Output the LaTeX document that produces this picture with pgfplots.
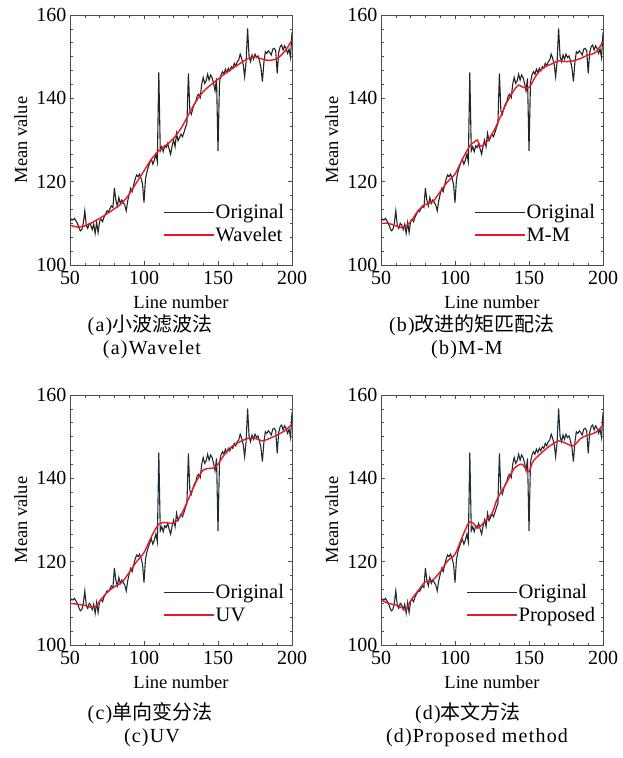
\documentclass[border=0pt]{standalone}
\usepackage{pgfplots}
\pgfplotsset{compat=1.18}
\usepackage{pgfplotstable}
\usepackage{fontspec}
\setmainfont{Liberation Serif}
\newfontfamily\cjk{Noto Sans CJK SC}
\newfontfamily\capfont[LetterSpace=6]{Liberation Serif}
\definecolor{origA}{RGB}{35,35,35}
\definecolor{origC}{RGB}{28,45,55}
\definecolor{smred}{RGB}{232,25,35}

\pgfplotstableread{
x y
50 110.5
51 111
52 110.8
53 111.2
54 110.6
55 110
56 109
57 108.2
58 108.5
59 110
60 113
61 109.5
62 108.8
63 110
64 109.6
65 108.5
66 109.8
67 107.6
68 110.2
69 107.8
70 110.5
71 111
72 110.4
73 111.5
74 112.2
75 113
76 112.8
77 113.5
78 114.2
79 113.8
80 118.5
81 115.5
82 114.2
83 116.2
84 114.8
85 115.6
86 115
87 114.4
88 113
89 115.4
90 117
91 118.4
92 117.6
93 119.2
94 120.6
95 121.6
96 121.2
97 121.8
98 120.8
99 119.4
100 115
101 120.6
102 122.4
103 123.6
104 124.6
105 125.4
106 124.2
107 125.2
108 126.6
109 124.8
110 146.2
111 127.4
112 128.4
113 127.2
114 128.6
115 128.2
116 129.2
117 127.8
118 126.6
119 128.6
120 130
121 128.4
122 131.6
123 129.8
124 130.6
125 131.4
126 130.8
127 131.8
128 133
129 134
130 146
131 137
132 136.2
133 137.6
134 138.6
135 139.2
136 140.6
137 141
138 140.2
139 143.4
140 145
141 143.6
142 144.2
143 145.8
144 144.4
145 145.6
146 145
147 143.6
148 141.8
149 144.8
150 127.4
151 143.8
152 145.6
153 146.4
154 145.8
155 147
156 146.2
157 147.2
158 146.6
159 147.6
160 147.2
161 148.4
162 147.8
163 148.8
164 149.2
165 150.6
166 149.6
167 148.2
168 145.2
169 148.8
170 156.8
171 150
172 148.8
173 150.4
174 149.4
175 150.6
176 149.8
177 150.2
178 149
179 147.4
180 144
181 148.6
182 151.2
183 150.8
184 151.4
185 151
186 150.4
187 151.8
188 152
189 151.4
190 146
191 151
192 152.4
193 152.8
194 151.6
195 152.6
196 152
197 150.8
198 151.8
199 149.8
200 155.8
}\origdata

\pgfplotstableread{
x y
50 109.6
55 109.1
60 109.4
65 110.2
70 111.2
75 112.3
80 113.5
85 114.8
90 117
95 119.8
100 122.6
105 125.4
110 127.4
115 128.8
120 130.4
125 132.8
130 136
135 139.2
140 141.6
145 143.2
150 144.6
155 146
160 147.2
165 148.4
170 149.5
175 150
180 149.4
185 149.1
190 149.6
195 151.2
200 154
}\wavedata

\pgfplotstableread{
x y
50 110
55 110
60 109.4
65 109
70 110.4
75 113
80 114.5
85 115.2
90 117.6
95 120
100 121.8
105 125.4
110 128.6
113 129.5
115 130
117 128.6
120 129
125 131.4
130 135
135 139
140 142
143 143.2
145 142.8
150 142.6
155 145.6
160 147.4
165 148.2
170 149
175 148.8
180 149
185 149.6
190 150.4
195 151
200 153.6
}\mmdata

\pgfplotstableread{
x y
50 110
55 109.8
60 109.5
65 109
68 109.4
70 110.5
75 112.6
80 114
85 115
90 117.4
95 120
100 122.2
105 126
110 129
115 129.4
120 129.2
125 131.2
130 135
135 139
140 142
145 142.4
148 142.6
150 143.4
155 146
160 147.8
165 148.8
170 149.6
175 149.6
180 149
185 149.6
190 150.4
195 151.4
200 153
}\uvdata

\pgfplotstableread{
x y
50 110.8
55 110
60 109.6
65 108.8
67 108.4
70 110.6
75 113
80 115.2
85 115.6
90 117.6
95 120.2
100 121.8
105 126
108 128.5
110 129.6
113 129
115 128
118 128.8
120 129.6
125 131.6
128 134.6
130 136
135 139
140 142.4
145 143.4
148 142.2
150 141.6
153 144.2
160 146.6
165 148
170 149
175 148.4
180 147.8
185 149.6
190 150.4
195 151
200 152.8
}\propdata

\pgfplotsset{
  panel/.style={
    width=222pt, height=250pt, scale only axis,
    xmin=50, xmax=200, ymin=100, ymax=160,
    xtick={50,100,150,200}, ytick={100,120,140,160},
    minor x tick num=4, minor y tick num=5,
    tick align=inside,
    major tick length=4pt, minor tick length=2.5pt,
    every tick/.style={black!70, line width=0.6pt},
    axis line style={black!70, line width=0.8pt},
    /pgf/number format/assume math mode=true,
    ticklabel style={font=\fontsize{20}{20}\selectfont},
    xticklabel style={yshift=-3pt},
    xlabel={Line number}, ylabel={Mean value},
    label style={font=\fontsize{18.5}{18.5}\selectfont},
    xlabel style={at={(axis description cs:0.5,0)}, anchor=north, yshift=-30pt, inner sep=0pt},
    ylabel style={at={(axis description cs:-0.222,0.5)}, anchor=center, inner sep=0pt},
  },
}
\newcommand{\legline}[2]{\tikz[baseline=-0.32em]\draw[draw=#1, line width=#2] (0pt,0pt) -- (50pt,0pt);}
\newcommand{\legbox}[3]{%
  \node[anchor=south east, inner sep=0pt, font=\fontsize{20.5}{23}\selectfont]
    at (rel axis cs:0.965,0.065) {\renewcommand{\arraystretch}{1}%
    \begin{tabular}{@{}l@{\hspace{1pt}}l@{}}
    \legline{#1}{1.1pt} & Original\\
    \legline{smred}{1.4pt} & #3
    \end{tabular}};}

\begin{document}
\begin{tikzpicture}
\useasboundingbox (0pt,0pt) rectangle (622pt,-758pt);

% (a)
\begin{axis}[panel, at={(70pt,-265pt)}, anchor=south west]
\addplot[draw=origA, line width=1.1pt] table[x=x,y=y] {\origdata};
\addplot[draw=smred, line width=1.4pt, smooth] table[x=x,y=y] {\wavedata};
\legbox{origA}{}{Wavelet}
\end{axis}

% (b)
\begin{axis}[panel, at={(381pt,-265pt)}, anchor=south west]
\addplot[draw=origA, line width=1.1pt] table[x=x,y=y] {\origdata};
\addplot[draw=smred, line width=1.4pt, smooth] table[x=x,y=y] {\mmdata};
\legbox{origA}{}{M-M}
\end{axis}

% (c)
\begin{axis}[panel, at={(70pt,-645pt)}, anchor=south west]
\addplot[draw=origC, line width=1.1pt] table[x=x,y=y] {\origdata};
\addplot[draw=smred, line width=1.4pt, smooth] table[x=x,y=y] {\uvdata};
\legbox{origC}{}{UV}
\end{axis}

% (d)
\begin{axis}[panel, at={(381pt,-645pt)}, anchor=south west]
\addplot[draw=origC, line width=1.1pt] table[x=x,y=y] {\origdata};
\addplot[draw=smred, line width=1.4pt, smooth] table[x=x,y=y] {\propdata};
\legbox{origC}{}{Proposed}
\end{axis}

\begin{scope}[every node/.style={inner sep=0pt, font=\fontsize{20}{20}\selectfont}]
\node at (150pt,-325pt) {{\capfont(a)}{\cjk 小波滤波法}};
\node at (152pt,-350pt) {\capfont(a)Wavelet};
\node at (472pt,-325pt) {{\capfont(b)}{\cjk 改进的矩匹配法}};
\node at (467pt,-350pt) {\capfont(b)M-M};
\node at (150pt,-713pt) {{\capfont(c)}{\cjk 单向变分法}};
\node at (152pt,-738pt) {\capfont(c)UV};
\node at (468pt,-713pt) {{\capfont(d)}{\cjk 本文方法}};
\node at (477pt,-738pt) {\capfont(d)Proposed method};
\end{scope}
\end{tikzpicture}
\end{document}
